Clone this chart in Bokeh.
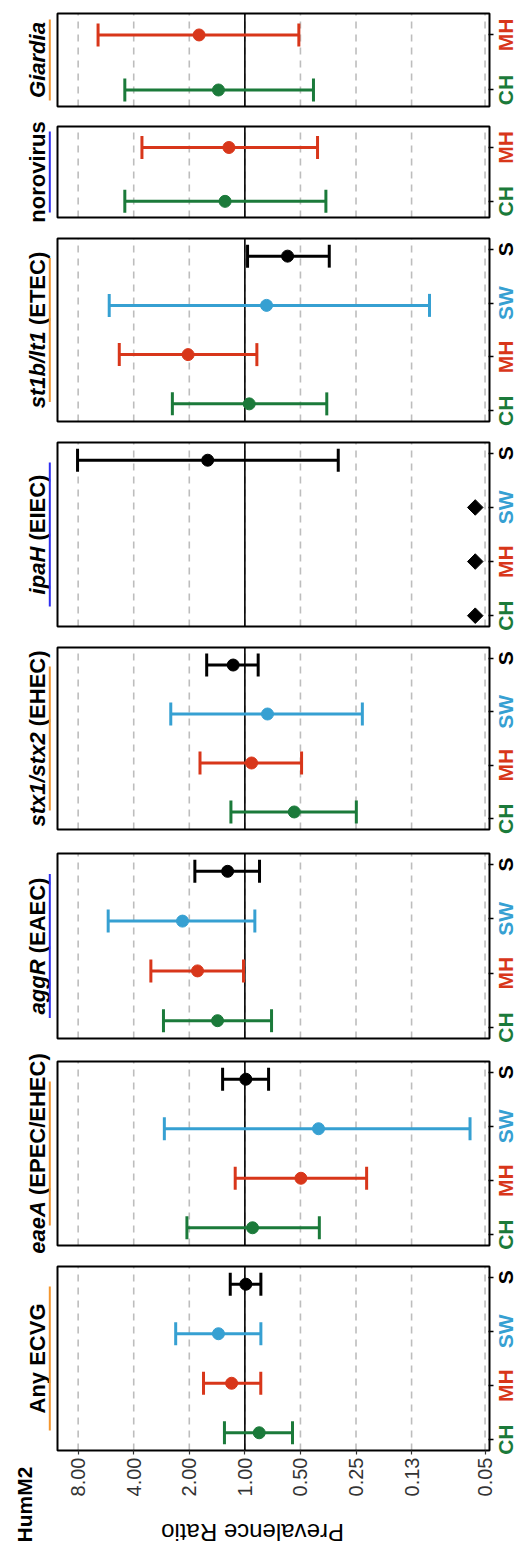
import math
from bokeh.plotting import figure
from bokeh.models import (Range1d, FixedTicker, LogAxis, LinearAxis, ColumnDataSource,
                          CustomJSTickFormatter)
from bokeh.layouts import column
from bokeh.embed import file_html
from bokeh.resources import INLINE
from bokeh.core.properties import value

# ---------------- data ----------------
panels = ["Giardia", "norovirus", "st1b/lt1 (ETEC)", "ipaH (EIEC)",
          "stx1/stx2 (EHEC)", "aggR (EAEC)", "eaeA (EPEC/EHEC)", "Any ECVG"]
title_italic = ["Giardia", "", "st1b/lt1", "ipaH", "stx1/stx2", "aggR", "eaeA", ""]
title_plain = ["", "norovirus", "(ETEC)", "(EIEC)", "(EHEC)", "(EAEC)", "(EPEC/EHEC)", "Any ECVG"]
title_mark = ["orange", "blue", "orange", "blue", "orange", "blue", "orange", "orange"]
panel_groups = [["CH", "MH"], ["CH", "MH"], ["CH", "MH", "SW", "S"], ["CH", "MH", "SW", "S"],
                ["CH", "MH", "SW", "S"], ["CH", "MH", "SW", "S"], ["CH", "MH", "SW", "S"],
                ["CH", "MH", "SW", "S"]]

row_panel = (["Giardia"] * 2 + ["norovirus"] * 2 + ["st1b/lt1 (ETEC)"] * 4 + ["ipaH (EIEC)"]
             + ["stx1/stx2 (EHEC)"] * 4 + ["aggR (EAEC)"] * 4 + ["eaeA (EPEC/EHEC)"] * 4
             + ["Any ECVG"] * 4)
row_group = (["CH", "MH"] * 2 + ["CH", "MH", "SW", "S"] + ["S"]
             + ["CH", "MH", "SW", "S"] * 4)
row_est = [1.39, 1.77, 1.28, 1.22,
           0.947, 2.03, 0.763, 0.587,
           1.59,
           0.54, 0.92, 0.754, 1.157,
           1.406, 1.805, 2.177, 1.24,
           0.909, 0.497, 0.399, 0.988,
           0.836, 1.18, 1.39, 0.988]
row_lo = [0.425, 0.51, 0.364, 0.404,
          0.36, 0.861, 0.100, 0.349,
          0.312,
          0.249, 0.493, 0.231, 0.847,
          0.717, 1.017, 0.883, 0.833,
          0.395, 0.219, 0.0603, 0.744,
          0.552, 0.82, 0.819, 0.819]
row_hi = [4.47, 6.24, 4.47, 3.61,
          2.47, 4.79, 5.43, 0.967,
          8.06,
          1.19, 1.75, 2.52, 1.61,
          2.76, 3.23, 5.5, 1.866,
          2.06, 1.128, 2.73, 1.32,
          1.29, 1.675, 2.37, 1.20]

na_panel = ["ipaH (EIEC)"] * 3
na_group = ["CH", "MH", "SW"]
na_value = [0.0565, 0.0565, 0.0565]

tick_vals = [8, 4, 2, 1, 0.5, 0.25, 0.125, 0.05]
tick_labels = ["8.00", "4.00", "2.00", "1.00", "0.50", "0.25", "0.13", "0.05"]

group_colors = {"CH": "#1B7A3A", "MH": "#D8361A", "SW": "#36A0D2", "S": "#000000"}
mark_colors = {"orange": "#F4962E", "blue": "#2E2EF0"}

# ---------------- layout geometry ----------------
fig_h = [116, 111, 204, 205, 205, 208, 206, 292]
b_top = [13, 10, 11, 11, 11, 12, 12, 11]
b_bot = [10, 10, 10, 10, 12, 11, 10, 97]
FIG_W = 518
PAN_L, PAN_R = 57, 489          # panel edges in pixels
XL, XR = 10.35, 0.0473          # panel x limits (prevalence ratio)
PPD = (PAN_R - PAN_L) / math.log2(XL / XR)   # pixels per doubling
X_START = XL * 2 ** (PAN_L / PPD)
X_END = XR / 2 ** ((FIG_W - PAN_R) / PPD)
FONT = "Liberation Sans"

W = {' ': 278, '(': 333, ')': 333, '/': 278, '1': 556, '2': 556, 'A': 722, 'C': 722,
     'E': 667, 'H': 722, 'I': 278, 'P': 667, 'T': 611, 'G': 778, 'R': 722, 'V': 667,
     'a': 556, 'b': 611, 'd': 611, 'e': 556, 'g': 611, 'h': 611, 'i': 278, 'l': 278,
     'n': 611, 'o': 611, 'p': 611, 'r': 389, 's': 556, 't': 333, 'u': 611, 'v': 556,
     'x': 556, 'y': 556}


def tw(s, size):
    return sum(W.get(c, 600) for c in s) * size / 1000.0


def x_left_of_panel(px):
    """data x that lies px pixels left of the panel's left edge"""
    return XL * 2 ** (px / PPD)


figs = []
for i, name in enumerate(panels):
    groups = panel_groups[i]
    n = len(groups)
    pos = {g: k + 1 for k, g in enumerate(groups)}
    if n == 4:
        ylo, yhi, squeeze = 0.8, 4.2, 0.915
    else:
        ylo, yhi, squeeze = 0.7, 2.39, 1.0
    mid = (n + 1) / 2.0
    last = (i == len(panels) - 1)
    H = fig_h[i] - b_top[i] - b_bot[i]
    upx = H / (yhi - ylo)      # pixels per y unit
    y_start = ylo - b_bot[i] / upx
    y_end = yhi + b_top[i] / upx

    p = figure(width=FIG_W, height=fig_h[i], x_axis_type="log",
               x_range=Range1d(X_START, X_END), y_range=Range1d(y_start, y_end),
               x_axis_location=None, y_axis_location=None,
               toolbar_location=None, output_backend="svg",
               min_border_left=0, min_border_right=0,
               min_border_top=0, min_border_bottom=0)
    p.outline_line_color = None
    p.background_fill_color = "white"
    p.border_fill_color = "white"
    p.xgrid.visible = False
    p.ygrid.visible = False

    # dashed grid lines at the ticks, solid reference line at 1
    p.segment(x0=tick_vals, y0=[ylo] * len(tick_vals), x1=tick_vals, y1=[yhi] * len(tick_vals),
              line_color="#BDBDBD", line_width=1.6, line_dash="7 6")
    p.segment(x0=[1], y0=[ylo], x1=[1], y1=[yhi], line_color="black", line_width=1.6)

    # data rows of this panel
    idx = [k for k, pn in enumerate(row_panel) if pn == name]
    src = ColumnDataSource(dict(
        y=[mid + squeeze * (pos[row_group[k]] - mid) for k in idx],
        est=[row_est[k] for k in idx],
        lo=[row_lo[k] for k in idx],
        hi=[row_hi[k] for k in idx],
        color=[group_colors[row_group[k]] for k in idx],
    ))
    p.segment(x0="lo", y0="y", x1="hi", y1="y", source=src,
              line_color="color", line_width=3)
    p.scatter(x="lo", y="y", source=src, marker="dash", angle=math.pi / 2, size=23,
              line_color="color", line_width=3)
    p.scatter(x="hi", y="y", source=src, marker="dash", angle=math.pi / 2, size=23,
              line_color="color", line_width=3)
    p.scatter(x="est", y="y", source=src, marker="circle", size=12,
              fill_color="color", line_color="color")

    nidx = [k for k, pn in enumerate(na_panel) if pn == name]
    if nidx:
        nsrc = ColumnDataSource(dict(x=[na_value[k] for k in nidx],
                                     y=[pos[na_group[k]] for k in nidx]))
        p.scatter(x="x", y="y", source=nsrc, marker="square", angle=math.pi / 4,
                  size=11, fill_color="black", line_color="black")

    # panel border
    p.quad(left=[XL], right=[XR], bottom=[ylo], top=[yhi], fill_color=None,
           line_color="black", line_width=2)

    # right axis: ticks only (drawn at the panel's right edge)
    ra = LinearAxis(fixed_location=XR, ticker=FixedTicker(ticks=[pos[gg] for gg in groups]),
                    formatter=CustomJSTickFormatter(code="return ''"),
                    axis_line_color=None, major_tick_out=4, major_tick_in=1,
                    major_tick_line_color="black", major_tick_line_width=1.5,
                    minor_tick_line_color=None, major_label_text_font_size="1px",
                    major_label_standoff=0)
    p.add_layout(ra, "right")
    # coloured category labels
    csrc = ColumnDataSource(dict(x=[XR] * n, y=[pos[gg] for gg in groups], t=groups,
                                 c=[group_colors[gg] for gg in groups]))
    p.text(x="x", y="y", text="t", source=csrc, x_offset=16, angle=math.pi / 2,
           text_align="center", text_baseline="middle", text_font=value(FONT),
           text_font_size="21px", text_font_style="bold", text_color="c")

    # panel title (rotated, left) with coloured mark
    it, pl = title_italic[i], title_plain[i]
    size = 22
    if it and pl:
        total = tw(it, size) + tw(" ", size) + tw(pl, size)
    else:
        total = tw(it + pl, size)
    yc = (ylo + yhi) / 2.0
    y0 = yc - total / 2.0 / upx
    if it:
        p.text(x=[XL], y=[y0], text=[it], x_offset=-20, angle=math.pi / 2,
               text_align="left", text_baseline="middle", text_font=value(FONT),
               text_font_size="22px", text_font_style="bold italic", text_color="black")
    if pl:
        yp = y0 + ((tw(it, size) + tw(" ", size)) / upx if it else 0)
        p.text(x=[XL], y=[yp], text=[pl], x_offset=-20, angle=math.pi / 2,
               text_align="left", text_baseline="middle", text_font=value(FONT),
               text_font_size="22px", text_font_style="bold", text_color="black")
    L = 144 if n == 4 else 81
    xm = x_left_of_panel(7.7)
    p.segment(x0=[xm], y0=[yc - L / 2.0 / upx], x1=[xm], y1=[yc + L / 2.0 / upx],
              line_color=mark_colors[title_mark[i]], line_width=2)

    if last:
        ax = LogAxis(fixed_location=ylo, ticker=FixedTicker(ticks=tick_vals),
                     major_label_overrides={float(v): t for v, t in zip(tick_vals, tick_labels)},
                     major_label_orientation=math.pi / 2, axis_line_color=None,
                     major_tick_out=4, major_tick_in=0, major_tick_line_color="#333333",
                     major_tick_line_width=1.2, minor_tick_line_color=None,
                     major_label_text_font=FONT, major_label_text_font_size="20px",
                     major_label_text_color="#333333", major_label_standoff=3)
        p.add_layout(ax, "below")
        p.text(x=[XL / 2 ** ((252 - PAN_L) / PPD)], y=[ylo - 82 / upx],
               text=["Prevalence Ratio"], angle=math.pi, text_align="center",
               text_baseline="middle", text_font=value(FONT), text_font_size="24px",
               text_color="black")
        p.text(x=[x_left_of_panel(33)], y=[ylo - 92 / upx], text=["HumM2"],
               angle=math.pi / 2, text_align="left", text_baseline="middle",
               text_font=value(FONT), text_font_size="21px", text_font_style="bold",
               text_color="black")
    figs.append(p)

layout = column(*figs, spacing=0)
open("out.html", "w").write(file_html(layout, INLINE))
